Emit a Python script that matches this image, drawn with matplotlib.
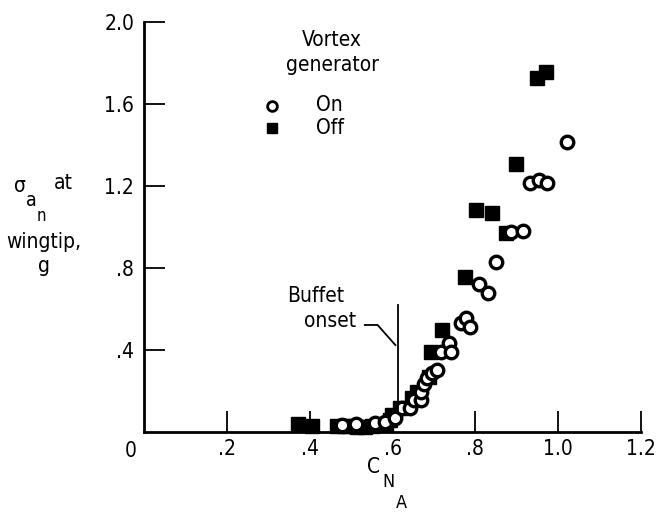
import matplotlib
matplotlib.use("Agg")
import matplotlib.pyplot as plt
import matplotlib.transforms as mtransforms

plt.rcParams['font.family'] = ['DejaVu Sans']
plt.rcParams['font.stretch'] = 'condensed'

# normal-force coefficient vs. wingtip acceleration rms, vortex generators on/off
cn_on = [0.477, 0.513, 0.557, 0.581, 0.605, 0.624, 0.643, 0.651, 0.670, 0.670,
         0.677, 0.684, 0.696, 0.708, 0.718, 0.737, 0.742, 0.766, 0.778, 0.786,
         0.810, 0.831, 0.851, 0.887, 0.916, 0.933, 0.954, 0.973, 1.022]
sig_on = [0.034, 0.040, 0.044, 0.050, 0.068, 0.117, 0.117, 0.156, 0.156, 0.195,
          0.234, 0.263, 0.288, 0.302, 0.390, 0.434, 0.390, 0.532, 0.556, 0.512,
          0.722, 0.678, 0.829, 0.976, 0.980, 1.215, 1.229, 1.215, 1.415]

cn_off = [0.373, 0.405, 0.465, 0.482, 0.496, 0.515, 0.533, 0.550, 0.569, 0.585,
          0.593, 0.598, 0.617, 0.646, 0.658, 0.689, 0.694, 0.720, 0.776, 0.802,
          0.841, 0.875, 0.899, 0.949, 0.971]
sig_off = [0.040, 0.030, 0.030, 0.028, 0.030, 0.026, 0.025, 0.028, 0.035, 0.040,
           0.060, 0.083, 0.117, 0.166, 0.195, 0.270, 0.390, 0.500, 0.756, 1.083,
           1.068, 0.971, 1.307, 1.727, 1.756]

xticks = [0.2, 0.4, 0.6, 0.8, 1.0, 1.2]
xlabels = ['.2', '.4', '.6', '.8', '1.0', '1.2']
yticks = [0.4, 0.8, 1.2, 1.6, 2.0]
ylabels = ['.4', '.8', '1.2', '1.6', '2.0']

W, H = 658, 525
fig = plt.figure(figsize=(W / 100, H / 100), dpi=100)
ax = fig.add_axes([144 / W, 1 - 432 / H, (641 - 144) / W, (432 - 22) / H])


def px(x, y):
    # pixel position -> figure fraction
    return x / W, 1 - y / H


ax.plot(cn_off, sig_off, 's', ms=9.5, mfc='black', mec='black', clip_on=False)
ax.plot(cn_on, sig_on, 'o', ms=9, mfc='white', mec='black', mew=2.4,
        clip_on=False)

ax.set_xlim(0, 1.2)
ax.set_ylim(0, 2.0)
for s in ['top', 'right']:
    ax.spines[s].set_visible(False)
for s in ['left', 'bottom']:
    ax.spines[s].set_linewidth(2)

ax.set_xticks(xticks)
ax.set_xticklabels(xlabels)
ax.set_yticks(yticks)
ax.set_yticklabels(ylabels)
ax.tick_params(direction='in', length=15, width=1.3, labelsize=15, pad=7)
ax.tick_params(axis='x', pad=5)

# origin label sits left of the corner
ax.text(0, 0, '0', transform=ax.transData + mtransforms.ScaledTranslation(-13 / 100, -9 / 100, fig.dpi_scale_trans),
        ha='center', va='top', fontsize=15)

# buffet onset marker
ax.plot([0.614, 0.614], [0.10, 0.62], color='black', lw=1.3)
ax.plot([0.533, 0.564, 0.607], [0.522, 0.522, 0.424], color='black', lw=1.3)
fig.text(*px(316, 296), 'Buffet', ha='center', va='center', fontsize=15)
fig.text(*px(330, 321), 'onset', ha='center', va='center', fontsize=15)

# legend
fig.text(*px(332, 40), 'Vortex', ha='center', va='center', fontsize=15)
fig.text(*px(332, 65), 'generator', ha='center', va='center', fontsize=15)
fig.add_artist(plt.Line2D([272 / W], [1 - 106 / H], marker='o', ms=7, mfc='white',
                          mec='black', mew=2, transform=fig.transFigure))
fig.add_artist(plt.Line2D([272 / W], [1 - 128 / H], marker='s', ms=7.5, mfc='black',
                          mec='black', transform=fig.transFigure))
fig.text(*px(316, 105), 'On', ha='left', va='center', fontsize=15)
fig.text(*px(316, 128), 'Off', ha='left', va='center', fontsize=15)

# y-axis title
fig.text(*px(20, 186), 'σ', ha='center', va='center', fontsize=15)
fig.text(*px(31, 201), 'a', ha='center', va='center', fontsize=14)
fig.text(*px(41, 216), 'n', ha='center', va='center', fontsize=12)
fig.text(*px(63, 183), 'at', ha='center', va='center', fontsize=15)
fig.text(*px(44, 242), 'wingtip,', ha='center', va='center', fontsize=15)
fig.text(*px(44, 266), 'g', ha='center', va='center', fontsize=15)

# x-axis title
fig.text(*px(374, 467), 'C', ha='center', va='center', fontsize=15)
fig.text(*px(388, 482), 'N', ha='center', va='center', fontsize=13)
fig.text(*px(401, 503), 'A', ha='center', va='center', fontsize=13)

fig.savefig('out.png', dpi=100)
